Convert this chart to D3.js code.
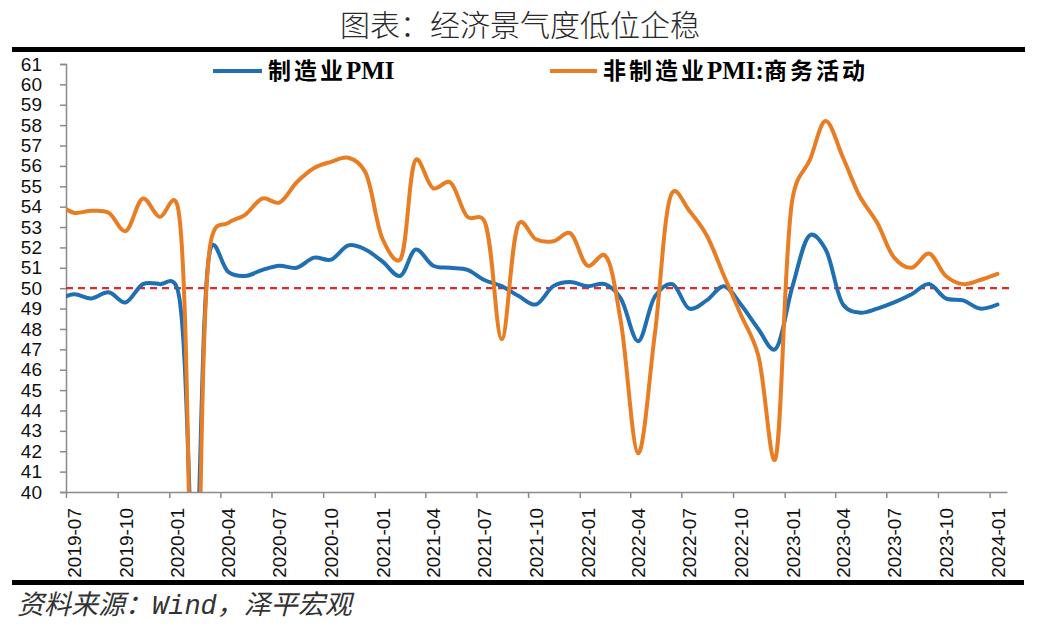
<!DOCTYPE html>
<html>
<head>
<meta charset="utf-8">
<script src="https://cdn.jsdelivr.net/npm/d3@7"></script>
<style>
  html, body { margin: 0; padding: 0; background: #fff; }
  svg { display: block; }
</style>
</head>
<body>
<svg id="chart" width="1039" height="627"></svg>
<script>
// ---- data ----
const months = [
  "2019-06","2019-07","2019-08","2019-09","2019-10","2019-11","2019-12",
  "2020-01","2020-02","2020-03","2020-04","2020-05","2020-06","2020-07","2020-08","2020-09","2020-10","2020-11","2020-12",
  "2021-01","2021-02","2021-03","2021-04","2021-05","2021-06","2021-07","2021-08","2021-09","2021-10","2021-11","2021-12",
  "2022-01","2022-02","2022-03","2022-04","2022-05","2022-06","2022-07","2022-08","2022-09","2022-10","2022-11","2022-12",
  "2023-01","2023-02","2023-03","2023-04","2023-05","2023-06","2023-07","2023-08","2023-09","2023-10","2023-11","2023-12",
  "2024-01"
];
const manufacturingPMI = [
  49.4,49.7,49.5,49.8,49.3,50.2,50.2,
  50.0,35.7,52.0,50.8,50.6,50.9,51.1,51.0,51.5,51.4,52.1,51.9,
  51.3,50.6,51.9,51.1,51.0,50.9,50.4,50.1,49.6,49.2,50.1,50.3,
  50.1,50.2,49.5,47.4,49.6,50.2,49.0,49.4,50.1,49.2,48.0,47.0,
  50.1,52.6,51.9,49.2,48.8,49.0,49.3,49.7,50.2,49.5,49.4,49.0,
  49.2
];
const nonManufacturingPMI = [
  54.2,53.7,53.8,53.7,52.8,54.4,53.5,
  54.1,29.6,52.3,53.2,53.6,54.4,54.2,55.2,55.9,56.2,56.4,55.7,
  52.4,51.4,56.3,54.9,55.2,53.5,53.3,47.5,53.2,52.4,52.3,52.7,
  51.1,51.6,48.4,41.9,47.8,54.7,53.8,52.6,50.6,48.7,46.7,41.6,
  54.4,56.3,58.2,56.4,54.5,53.2,51.5,51.0,51.7,50.6,50.2,50.4,
  50.7
];
const seriesNames = [
  [["制造业", true], ["PMI", false]],
  [["非制造业", true], ["PMI:", false], ["商务活动", true]]
];
const seriesColors = ["#1f6fb2", "#e87d24"];
const xTickLabels = [
  "2019-07","2019-10","2020-01","2020-04","2020-07","2020-10",
  "2021-01","2021-04","2021-07","2021-10","2022-01","2022-04",
  "2022-07","2022-10","2023-01","2023-04","2023-07","2023-10","2024-01"
];
const yTicks = d3.range(40, 62, 1);
const refLine = 50;
const titleText = "图表：经济景气度低位企稳";
const sourceText = "资料来源：Wind，泽平宏观";

// ---- layout ----
const svg = d3.select("#chart");
const plot = { left: 66, right: 1007, top: 64, bottom: 492 };
const parseMonth = d3.timeParse("%Y-%m");
const parseMid = s => d3.timeParse("%Y-%m-%d")(s + "-15");

const x = d3.scaleTime()
  .domain([parseMonth("2019-07"), parseMonth("2024-02")])
  .range([plot.left, plot.right]);
const y = d3.scaleLinear().domain([40, 61]).range([plot.bottom, plot.top]);

const axisColor = "#8a8a8a";

// title
svg.append("text")
  .attr("x", 520).attr("y", 36)
  .attr("text-anchor", "middle")
  .attr("font-family", "'Noto Sans CJK SC', sans-serif")
  .attr("font-weight", 300)
  .attr("font-size", 30)
  .attr("fill", "#2a2a2a")
  .text(titleText);

// top & bottom bars
svg.append("rect").attr("x", 12).attr("y", 47).attr("width", 1013).attr("height", 5).attr("fill", "#000");
svg.append("rect").attr("x", 12).attr("y", 580).attr("width", 1012).attr("height", 5).attr("fill", "#000");

// clip
svg.append("defs").append("clipPath").attr("id", "plotclip")
  .append("rect")
  .attr("x", plot.left).attr("y", 0)
  .attr("width", plot.right - plot.left + 8)
  .attr("height", plot.bottom);

// y axis
const yAxis = svg.append("g")
  .attr("transform", `translate(${plot.left},0)`)
  .call(d3.axisLeft(y).tickValues(yTicks).tickSize(6).tickPadding(18).tickFormat(d3.format("d")));
yAxis.select(".domain").attr("stroke", axisColor).attr("stroke-width", 1.5);
yAxis.selectAll(".tick line").attr("stroke", axisColor).attr("stroke-width", 1.5);
yAxis.selectAll(".tick text")
  .attr("font-family", "'Liberation Sans', Arial, sans-serif")
  .attr("font-size", 19)
  .attr("fill", "#111");

// x axis
const xTickDates = xTickLabels.map(parseMonth);
const xAxis = svg.append("g")
  .attr("transform", `translate(0,${plot.bottom})`)
  .call(d3.axisBottom(x).tickValues(xTickDates).tickSize(6).tickSizeOuter(0).tickFormat(""));
xAxis.select(".domain").attr("stroke", axisColor).attr("stroke-width", 1.5);
xAxis.selectAll(".tick line").attr("stroke", axisColor).attr("stroke-width", 1.5);

svg.append("g").selectAll("text")
  .data(xTickLabels)
  .join("text")
  .attr("transform", d => `translate(${x(parseMonth(d)) + 15},508) rotate(-90)`)
  .attr("text-anchor", "end")
  .attr("font-family", "'Liberation Sans', Arial, sans-serif")
  .attr("font-size", 19)
  .attr("fill", "#111")
  .text(d => d);

// reference line at 50
svg.append("line")
  .attr("x1", plot.left).attr("x2", 1013)
  .attr("y1", y(refLine)).attr("y2", y(refLine))
  .attr("stroke", "#dd2a2a")
  .attr("stroke-width", 2.2)
  .attr("stroke-dasharray", "7,5");

// lines
const line = d3.line()
  .x((d, i) => x(parseMid(months[i])))
  .y(d => y(d))
  .curve(d3.curveCatmullRom.alpha(0.3));

const lg = svg.append("g").attr("clip-path", "url(#plotclip)");
[manufacturingPMI, nonManufacturingPMI].forEach((vals, k) => {
  lg.append("path")
    .datum(vals)
    .attr("d", line)
    .attr("fill", "none")
    .attr("stroke", seriesColors[k])
    .attr("stroke-width", 4)
    .attr("stroke-linejoin", "round")
    .attr("stroke-linecap", "round");
});

// legend
const legendItems = [
  { x1: 213, x2: 262, tx: 268 },
  { x1: 550, x2: 597, tx: 603 }
];
legendItems.forEach((it, k) => {
  svg.append("line")
    .attr("x1", it.x1).attr("x2", it.x2)
    .attr("y1", 71).attr("y2", 71)
    .attr("stroke", seriesColors[k]).attr("stroke-width", 4);
  const t = svg.append("text")
    .attr("x", it.tx).attr("y", 79)
    .attr("font-weight", "bold")
    .attr("fill", "#000");
  seriesNames[k].forEach(([part, cjk]) => {
    t.append("tspan")
      .attr("font-family", cjk ? "'Noto Sans CJK SC', sans-serif" : "'Liberation Serif', serif")
      .attr("font-size", cjk ? 23 : 25)
      .attr("letter-spacing", cjk ? 3 : 0)
      .text(part);
  });
});

// source
svg.append("text")
  .attr("x", 17).attr("y", 614)
  .attr("font-family", "'Liberation Mono', 'Noto Sans CJK SC', monospace")
  .attr("font-style", "italic")
  .attr("font-size", 27)
  .attr("fill", "#333")
  .text(sourceText);
</script>
</body>
</html>
